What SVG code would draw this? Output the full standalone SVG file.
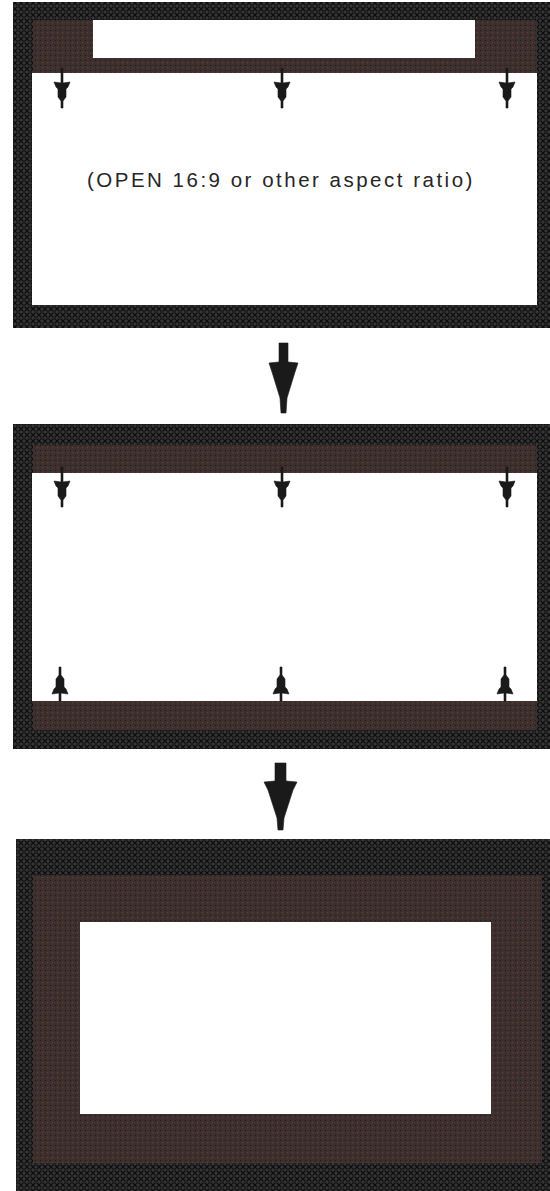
<svg xmlns="http://www.w3.org/2000/svg" width="550" height="1191" viewBox="0 0 550 1191">
<style>
.blk{fill:url(#blkTex)}
.brn{fill:url(#brnTex)}
.wht{fill:#ffffff}
.arr{fill:#1a1a1a;stroke:#1a1a1a;stroke-width:0.6;stroke-linejoin:round}
.lbl{font-family:"Liberation Sans",Arial,sans-serif;font-size:20.5px;fill:#262626;letter-spacing:2.5px}
</style>
<defs>
<pattern id="blkTex" width="6" height="6" patternUnits="userSpaceOnUse">
<rect width="6" height="6" fill="#353535"/>
<path d="M0.5,0.5 L5.5,5.5 M5.5,0.5 L0.5,5.5" stroke="#0c0c0c" stroke-width="1.2"/>
</pattern>
<pattern id="brnTex" width="5" height="5" patternUnits="userSpaceOnUse">
<rect width="5" height="5" fill="#3b302d"/>
<rect x="2" y="2" width="1.2" height="1.2" fill="#74382f"/>
<rect x="0" y="0" width="1" height="1" fill="#1e1a18"/>
</pattern>
<path id="sDown" d="M-1,-15 L1,-15 L1,0 L8,-1 L6,4 L4,6 L4,14 L1,18 L1,25 L-1,25 L-1,18 L-4,14 L-4,6 L-6,4 L-8,-1 L-1,0 Z"/>
<path id="sUp" d="M-1,8 L1,8 L1,0 L8,1 L6,-4 L4,-6 L4,-14 L1,-18 L1,-26 L-1,-26 L-1,-18 L-4,-14 L-4,-6 L-6,-4 L-8,1 L-1,0 Z"/>
</defs>

<g id="frame1">
<rect class="blk" x="13" y="2" width="537" height="326"/>
<rect class="brn" x="33" y="20" width="504" height="53"/>
<rect class="wht" x="93" y="20" width="382" height="38"/>
<rect class="wht" x="32" y="73" width="505" height="232"/>
<text class="lbl" x="87" y="187">(OPEN 16:9 or other aspect ratio)</text>
</g>

<g id="frame2">
<rect class="blk" x="13" y="424" width="537" height="325"/>
<rect class="brn" x="33" y="445" width="504" height="285"/>
<rect class="wht" x="32" y="473" width="505" height="228"/>
</g>

<g id="frame3">
<rect class="blk" x="16" y="839" width="534" height="352"/>
<rect class="brn" x="33" y="875" width="509" height="288"/>
<rect class="wht" x="80" y="922" width="411" height="192"/>
</g>

<g id="connectors">
<use href="#sDown" class="arr" x="62" y="83"/>
<use href="#sDown" class="arr" x="282" y="83"/>
<use href="#sDown" class="arr" x="507" y="83"/>
<use href="#sDown" class="arr" x="62" y="482"/>
<use href="#sDown" class="arr" x="282" y="482"/>
<use href="#sDown" class="arr" x="507" y="482"/>
<use href="#sUp" class="arr" x="60" y="693"/>
<use href="#sUp" class="arr" x="281" y="693"/>
<use href="#sUp" class="arr" x="505" y="693"/>
<path class="arr" d="M279,343 L288,343 L288,362 L298,363 L295,372 L287,398 L286,413 L281,413 L280,398 L272,372 L269,363 L279,362 Z"/>
<path class="arr" d="M275,763 L286,763 L286,781 L297,782 L293,790 L284,818 L283,830 L278,830 L277,818 L268,790 L264,782 L275,781 Z"/>
</g>
</svg>
